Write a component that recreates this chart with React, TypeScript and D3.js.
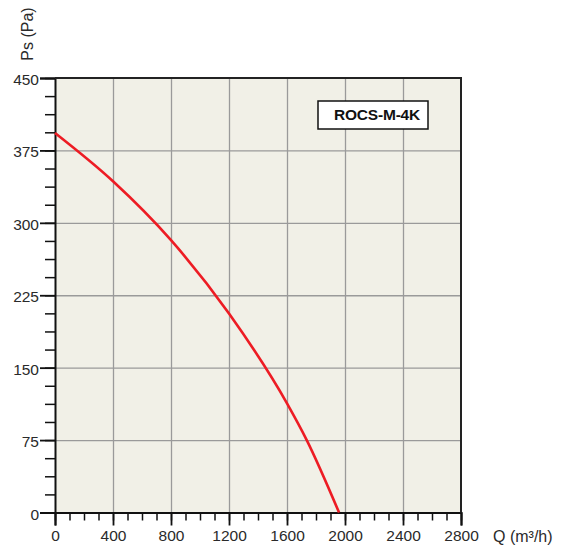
import React, {useEffect, useRef} from 'react';
import * as d3 from 'd3';

// curve
const flow = [0, 400, 800, 1200, 1600, 1736, 1959];
const pressure = [393, 343, 282, 206, 113, 75, 0];

const xTicks = [0, 400, 800, 1200, 1600, 2000, 2400, 2800];
const yTicks = [0, 75, 150, 225, 300, 375, 450];
const modelName = 'ROCS-M-4K';

function App() {
  const ref = useRef(null);

  const W = 563;
  const H = 548;
  const left = 55, right = 461, top = 78, bottom = 512.5;

  useEffect(() => {
    const svg = d3.select(ref.current);
    svg.selectAll('*').remove();

    const x = d3.scaleLinear().domain([0, 2800]).range([left, right]);
    const y = d3.scaleLinear().domain([0, 450]).range([bottom, top]);
    const font = 'Liberation Sans, Arial, sans-serif';

    svg.append('rect')
      .attr('x', left).attr('y', top)
      .attr('width', right - left).attr('height', bottom - top)
      .attr('fill', '#f1f0e7');

    // grid
    const xGrid = d3.axisBottom(x).tickValues(xTicks.slice(1, -1))
      .tickSize(-(bottom - top)).tickFormat('' as any);
    svg.append('g').attr('transform', `translate(0,${bottom})`).call(xGrid)
      .call((g: any) => g.select('.domain').remove())
      .call((g: any) => g.selectAll('line').attr('stroke', '#9a9a9a').attr('stroke-width', 1.3));

    const yGrid = d3.axisLeft(y).tickValues(yTicks.slice(1, -1))
      .tickSize(-(right - left)).tickFormat('' as any);
    svg.append('g').attr('transform', `translate(${left},0)`).call(yGrid)
      .call((g: any) => g.select('.domain').remove())
      .call((g: any) => g.selectAll('line').attr('stroke', '#9a9a9a').attr('stroke-width', 1.3));

    // minor ticks
    const yMinor = d3.range(0, 450.1, 18.75);
    svg.append('g').attr('transform', `translate(${left},0)`)
      .call(d3.axisLeft(y).tickValues(yMinor).tickSize(10).tickFormat('' as any))
      .call((g: any) => g.select('.domain').remove())
      .call((g: any) => g.selectAll('line').attr('stroke', '#111').attr('stroke-width', 1.5));
    const xMinor = d3.range(0, 2800.1, 100);
    svg.append('g').attr('transform', `translate(0,${bottom})`)
      .call(d3.axisBottom(x).tickValues(xMinor).tickSize(8).tickFormat('' as any))
      .call((g: any) => g.select('.domain').remove())
      .call((g: any) => g.selectAll('line').attr('stroke', '#111').attr('stroke-width', 1.5));

    // major axes
    svg.append('g').attr('transform', `translate(${left},0)`)
      .call(d3.axisLeft(y).tickValues(yTicks).tickSize(15).tickPadding(1).tickFormat(d3.format('d')))
      .call((g: any) => g.select('.domain').attr('stroke', '#111').attr('stroke-width', 2))
      .call((g: any) => g.selectAll('line').attr('stroke', '#111').attr('stroke-width', 1.8))
      .call((g: any) => g.selectAll('text').attr('font-size', 15.5).attr('font-family', font)
        .attr('fill', '#2a2a2a').attr('dy', '0.42em'));

    svg.append('g').attr('transform', `translate(0,${bottom})`)
      .call(d3.axisBottom(x).tickValues(xTicks).tickSize(13).tickPadding(4.5).tickFormat(d3.format('d')))
      .call((g: any) => g.select('.domain').attr('stroke', '#111').attr('stroke-width', 2))
      .call((g: any) => g.selectAll('line').attr('stroke', '#111').attr('stroke-width', 1.8))
      .call((g: any) => g.selectAll('text').attr('font-size', 15.5).attr('font-family', font)
        .attr('fill', '#2a2a2a'));

    // frame top/right
    svg.append('path')
      .attr('d', `M${left},${top}H${right}V${bottom}`)
      .attr('fill', 'none').attr('stroke', '#222').attr('stroke-width', 2);

    // curve
    const line = d3.line<number>()
      .x((d, i) => x(flow[i]))
      .y(d => y(d))
      .curve(d3.curveMonotoneX);
    svg.append('path')
      .attr('d', line(pressure))
      .attr('fill', 'none')
      .attr('stroke', '#ed1c24')
      .attr('stroke-width', 2.6);

    // model label
    svg.append('rect')
      .attr('x', 318).attr('y', 101).attr('width', 110).attr('height', 28)
      .attr('fill', '#fff').attr('stroke', '#111').attr('stroke-width', 1.5);
    svg.append('text')
      .attr('x', 377).attr('y', 120)
      .attr('text-anchor', 'middle')
      .attr('font-family', font).attr('font-weight', 'bold').attr('font-size', 15.5)
      .attr('letter-spacing', -0.2)
      .attr('fill', '#111')
      .text(modelName);

    // axis titles
    svg.append('text')
      .attr('transform', 'translate(33,34) rotate(-90)')
      .attr('text-anchor', 'middle')
      .attr('font-family', font).attr('font-size', 16).attr('fill', '#2a2a2a')
      .text('Ps (Pa)');
    svg.append('text')
      .attr('x', 493).attr('y', 542)
      .attr('font-family', font).attr('font-size', 16).attr('fill', '#2a2a2a')
      .text('Q (m³/h)');
  });

  return (
    <svg ref={ref} width={W} height={H} style={{position: 'absolute', left: 0, top: 0, background: '#fff'}}/>
  );
}

export default App;
